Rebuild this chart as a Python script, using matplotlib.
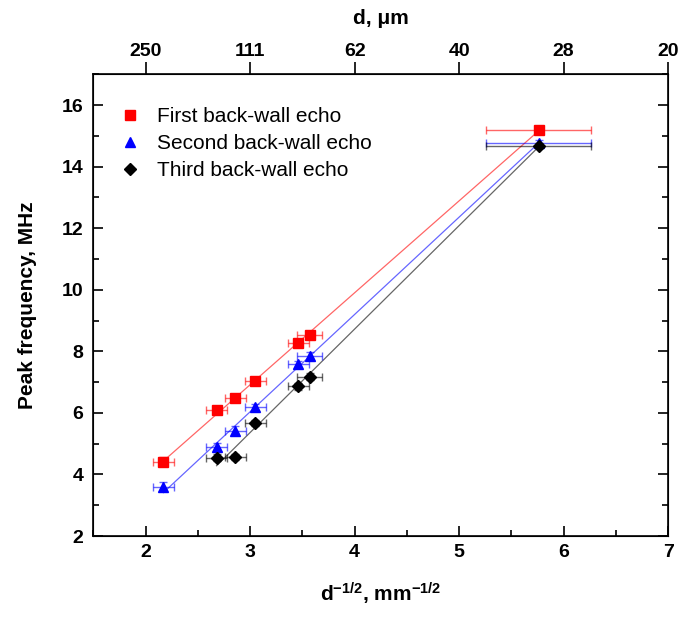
import numpy as np
import matplotlib
matplotlib.use("Agg")
import matplotlib.pyplot as plt
from matplotlib.ticker import MultipleLocator

plt.rcParams['font.family'] = ['Liberation Sans', 'DejaVu Sans']
plt.rcParams['mathtext.fontset'] = 'custom'
plt.rcParams['mathtext.rm'] = 'Liberation Sans'
plt.rcParams['mathtext.bf'] = 'Liberation Sans:bold'

# x = d^-1/2 (mm^-1/2)
x_first = [2.17, 2.68, 2.86, 3.05, 3.46, 3.57, 5.76]
y_first = [4.42, 6.08, 6.48, 7.05, 8.28, 8.52, 15.19]
x_second = [2.17, 2.68, 2.86, 3.05, 3.46, 3.57, 5.76]
y_second = [3.6, 4.9, 5.42, 6.18, 7.58, 7.85, 14.78]
x_third = [2.68, 2.86, 3.05, 3.46, 3.57, 5.76]
y_third = [4.55, 4.58, 5.68, 6.86, 7.18, 14.68]

# error bars
xerr_first = [0.1, 0.1, 0.1, 0.1, 0.1, 0.12, 0.5]
yerr_first = [0.15, 0.12, 0.12, 0.12, 0.12, 0.12, 0.12]
xerr_second = [0.1, 0.1, 0.1, 0.1, 0.1, 0.12, 0.5]
yerr_second = [0.15, 0.12, 0.15, 0.12, 0.12, 0.12, 0.08]
xerr_third = [0.1, 0.1, 0.1, 0.1, 0.12, 0.5]
yerr_third = [0.1, 0.1, 0.1, 0.1, 0.12, 0.08]

top_ticks = [2, 3, 4, 5, 6, 7]
top_labels = ['250', '111', '62', '40', '28', '20']

series = [
    (x_first, y_first, xerr_first, yerr_first, 'red', 's', 'First back-wall echo'),
    (x_second, y_second, xerr_second, yerr_second, 'blue', '^', 'Second back-wall echo'),
    (x_third, y_third, xerr_third, yerr_third, 'black', 'D', 'Third back-wall echo'),
]

fig = plt.figure(figsize=(6.86, 6.19), dpi=100)
ax = fig.add_axes([0.136, 0.134, 0.838, 0.746])

for xs, ys, xe, ye, col, mk, lab in series:
    xs = np.array(xs)
    ys = np.array(ys)
    # linear fit line
    k, b = np.polyfit(xs, ys, 1)
    xl = np.array([xs.min(), xs.max()])
    ax.plot(xl, k * xl + b, color=col, lw=0.9, alpha=0.6, zorder=1)
    ax.errorbar(xs, ys, xerr=xe, yerr=ye, fmt='none', ecolor=col, elinewidth=1,
                capsize=3, alpha=0.6, zorder=2)
    ms = 7.5 if mk != 'D' else 6.5
    ax.plot(xs, ys, linestyle='none', marker=mk, color=col, markersize=ms,
            label=lab, zorder=3)

ax.set_xlim(1.5, 7)
ax.set_ylim(2, 17)
ax.xaxis.set_major_locator(MultipleLocator(1))
ax.xaxis.set_minor_locator(MultipleLocator(0.5))
ax.yaxis.set_major_locator(MultipleLocator(2))
ax.yaxis.set_minor_locator(MultipleLocator(1))
ax.tick_params(which='both', direction='out', labelsize=14, width=1.2)
ax.tick_params(which='major', length=7)
ax.tick_params(which='minor', length=4)
ax.tick_params(axis='y', which='major', pad=7)
ax.tick_params(axis='x', which='major', pad=6)
ax.tick_params(right=True, which='both', direction='in')
for lbl in ax.get_xticklabels() + ax.get_yticklabels():
    lbl.set_fontweight('bold')
for s in ax.spines.values():
    s.set_linewidth(1.2)

ax.set_xlabel(r'$\mathbf{d^{-1/2}}$, mm$\mathbf{^{-1/2}}$', fontsize=15, fontweight='bold', labelpad=14)
ax.set_ylabel('Peak frequency, MHz', fontsize=15, fontweight='bold', labelpad=18)

top = ax.twiny()
top.set_xlim(ax.get_xlim())
top.set_xticks(top_ticks)
top.set_xticklabels(top_labels, fontsize=14, fontweight='bold')
top.tick_params(direction='out', length=9, width=1.2, pad=1)
top.set_xlabel('d, \u03bcm', fontsize=15, fontweight='bold', labelpad=14)

leg = ax.legend(loc='upper left', bbox_to_anchor=(0.01, 0.96), frameon=False,
                fontsize=15, handletextpad=0.5, labelspacing=0.38, borderaxespad=0.3,
                handlelength=1.6)

fig.savefig('out.png', dpi=100)
